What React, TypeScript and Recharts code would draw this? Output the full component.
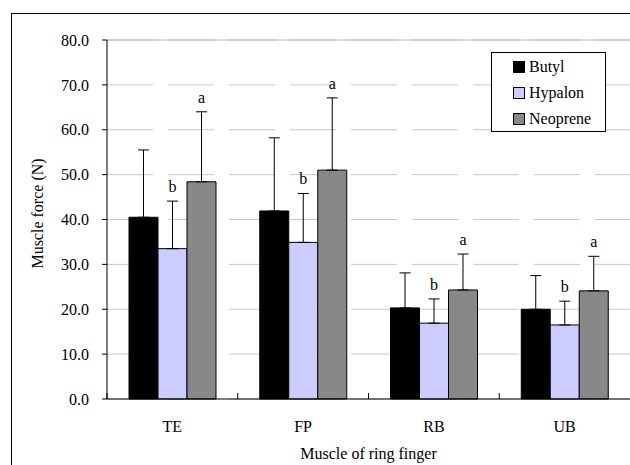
import {
  BarChart,
  Bar,
  XAxis,
  YAxis,
  CartesianGrid,
  ErrorBar,
  LabelList,
  Legend,
  ReferenceLine,
} from "recharts"

const muscles = ["TE", "FP", "RB", "UB"]
const butyl = [40.5, 41.9, 20.3, 20.0]
const butylSd = [15.0, 16.3, 7.8, 7.5]
const hypalon = [33.5, 34.9, 16.9, 16.5]
const hypalonSd = [10.6, 10.9, 5.4, 5.3]
const neoprene = [48.4, 51.0, 24.3, 24.1]
const neopreneSd = [15.6, 16.1, 8.0, 7.7]
const hypalonMarks = ["b", "b", "b", "b"]
const neopreneMarks = ["a", "a", "a", "a"]
const yTicks = [0, 10, 20, 30, 40, 50, 60, 70, 80]

const data = muscles.map((name, i) => ({
  name,
  butyl: butyl[i],
  butylErr: [0, butylSd[i]],
  hypalon: hypalon[i],
  hypalonErr: [0, hypalonSd[i]],
  neoprene: neoprene[i],
  neopreneErr: [0, neopreneSd[i]],
}))

const FONT = 16
const SERIF = "Liberation Serif"
const TICK_GAP = 22

// etiketa kategórie + malá čiarka na hranici kategórie
function MuscleTick(props: any) {
  const { x, y, payload } = props
  const half = payload?.offset
  return (
    <g>
      {half != null && (
        <line x1={x - half} x2={x - half} y1={y - TICK_GAP} y2={y - TICK_GAP - 6} stroke="#000" />
      )}
      <text x={x} y={y} dy="0.71em" textAnchor="middle" fontSize={FONT} fontFamily={SERIF} fill="#000">
        {payload.value}
      </text>
    </g>
  )
}

// popis osi Y, otočený
function YTitle(props: any) {
  const vb = props.viewBox || {}
  const cx = (vb.x ?? 0) + 37
  const cy = (vb.y ?? 0) + (vb.height ?? 0) / 2 - 6
  return (
    <text
      x={cx}
      y={cy}
      transform={`rotate(-90 ${cx} ${cy})`}
      textAnchor="middle"
      dominantBaseline="central"
      fontSize={FONT}
      fontFamily={SERIF}
      fill="#000"
    >
      Muscle force (N)
    </text>
  )
}

// písmeno nad chybovou úsečkou
const markLabel = (marks: string[], sds: number[]) => (p: any) => {
  const { x, y, width, height, value, index } = p
  const mark = marks[index]
  if (!mark) return null
  const perUnit = Number(height) / Number(value)
  const top = Number(y) - sds[index] * perUnit
  return (
    <text
      x={Number(x) + Number(width) / 2}
      y={top - 9}
      textAnchor="middle"
      fontSize={FONT}
      fontFamily={SERIF}
      fill="#000"
    >
      {mark}
    </text>
  )
}

const renderLegend = (props: any) => (
  <div
    style={{
      boxSizing: "border-box",
      width: 115,
      height: 80,
      border: "1px solid #000",
      background: "#fff",
      padding: "1px 0 0 21px",
      fontFamily: SERIF,
    }}
  >
    {(props.payload || []).map((entry: any) => (
      <div key={entry.value} style={{ display: "flex", alignItems: "center", height: 26 }}>
        <span
          style={{
            display: "inline-block",
            boxSizing: "border-box",
            width: 12,
            height: 12,
            background: entry.color,
            border: "1px solid #000",
          }}
        />
        <span style={{ marginLeft: 4, fontSize: FONT, color: "#000", fontFamily: SERIF }}>{entry.value}</span>
      </div>
    ))}
  </div>
)

export default function App() {
  return (
    <div
      style={{
        position: "fixed",
        left: 0,
        top: 0,
        width: 630,
        height: 465,
        overflow: "hidden",
        background: "#fff",
        fontFamily: SERIF,
      }}
    >
      <div
        style={{
          position: "absolute",
          left: 11,
          top: 13,
          width: 680,
          height: 520,
          border: "1px solid #000",
        }}
      />
      <div style={{ position: "absolute", left: 0, top: 0 }}>
        <BarChart
          width={630}
          height={465}
          data={data}
          margin={{ top: 40, right: 0, left: 0, bottom: 0 }}
          barGap={0}
          barSize={29}
          style={{ fontFamily: SERIF }}
        >
          <CartesianGrid vertical={false} stroke="#c8c8c8" strokeDasharray="46 15" />
          <ReferenceLine y={80} stroke="#b8b8b8" />
          <XAxis
            dataKey="name"
            height={66}
            axisLine={{ stroke: "#000" }}
            tickLine={false}
            tickSize={0}
            tickMargin={TICK_GAP}
            tick={<MuscleTick />}
            label={{
              value: "Muscle of ring finger",
              position: "insideBottom",
              offset: 6,
              fill: "#000",
              fontSize: FONT,
              fontFamily: SERIF,
            }}
          />
          <YAxis
            domain={[0, 80]}
            ticks={yTicks}
            width={107}
            tickFormatter={(v: number) => v.toFixed(1)}
            tickSize={5}
            tickMargin={13}
            axisLine={{ stroke: "#000" }}
            tickLine={{ stroke: "#000" }}
            tick={{ fill: "#000", fontSize: FONT, fontFamily: SERIF }}
            label={{ content: <YTitle /> }}
          />
          <Legend
            layout="vertical"
            align="center"
            verticalAlign="middle"
            content={renderLegend}
            wrapperStyle={{ left: 491, top: 52, width: 115, height: 80 }}
          />
          <Bar dataKey="butyl" name="Butyl" fill="#000000" stroke="#000" isAnimationActive={false}>
            <ErrorBar dataKey="butylErr" width={5.5} stroke="#000" strokeWidth={1} />
          </Bar>
          <Bar dataKey="hypalon" name="Hypalon" fill="#ccccff" stroke="#000" isAnimationActive={false}>
            <ErrorBar dataKey="hypalonErr" width={5.5} stroke="#000" strokeWidth={1} />
            <LabelList dataKey="hypalon" content={markLabel(hypalonMarks, hypalonSd)} />
          </Bar>
          <Bar dataKey="neoprene" name="Neoprene" fill="#888888" stroke="#000" isAnimationActive={false}>
            <ErrorBar dataKey="neopreneErr" width={5.5} stroke="#000" strokeWidth={1} />
            <LabelList dataKey="neoprene" content={markLabel(neopreneMarks, neopreneSd)} />
          </Bar>
        </BarChart>
      </div>
    </div>
  )
}
